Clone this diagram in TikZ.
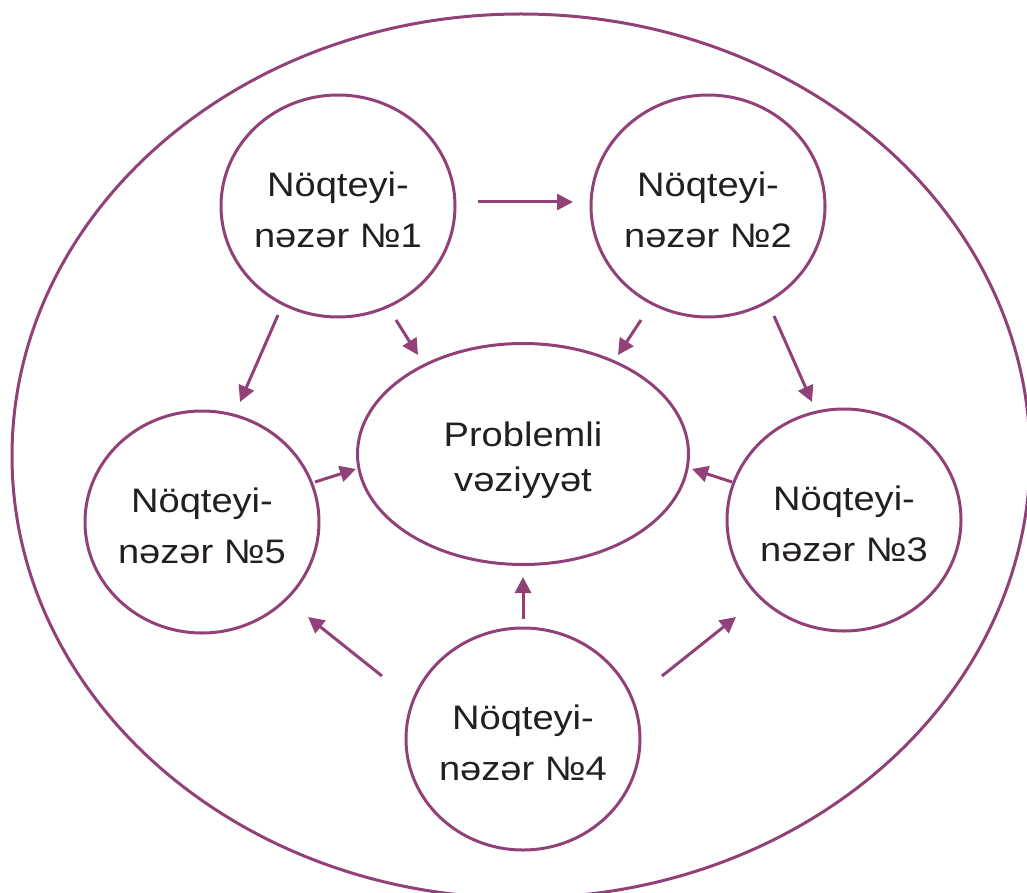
\documentclass[tikz,border=0pt]{standalone}
\usepackage{fontspec}
\setmainfont{Liberation Sans}
\newfontfamily\labelfont[FakeStretch=1.12]{Liberation Sans}
\usetikzlibrary{arrows.meta,shapes.geometric,calc}
\definecolor{plum}{RGB}{145,65,120}
\definecolor{ink}{RGB}{35,31,32}
% invisible strut that lowers a label inside its shape
\newcommand\headroom[1]{\rule{0pt}{#1}}

\begin{document}
\begin{tikzpicture}[x=1pt,y=-1pt,
  rim/.style={ellipse, draw=plum, line width=3pt, inner sep=0pt},
  view/.style={rim, minimum width=234pt, minimum height=222pt,
    inner xsep=-30pt, align=center, text=ink,
    font=\labelfont\fontsize{34}{51}\selectfont},
  core/.style={rim, minimum width=331pt, minimum height=221pt,
    inner xsep=-30pt, align=center, text=ink,
    font=\labelfont\fontsize{34}{45}\selectfont},
  arr/.style={draw=plum, line width=3pt, -{Triangle[length=16pt,width=16pt]}}
]
\useasboundingbox (0,0) rectangle (1027,893);

% enclosing boundary
\node[rim, minimum width=1018pt, minimum height=884pt] (outer) at (521,456) {};

% central problem
\node[core] (p) at (523,454) {\headroom{38pt}Problemli\\vəziyyət};

% five viewpoints
\node[view] (c1) at (338,206) {\headroom{32pt}Nöqteyi-\\nəzər №1};
\node[view] (c2) at (708,206) {\headroom{32pt}Nöqteyi-\\nəzər №2};
\node[view] (c3) at (844,520) {\headroom{32pt}Nöqteyi-\\nəzər №3};
\node[view] (c4) at (523,739) {\headroom{32pt}Nöqteyi-\\nəzər №4};
\node[view] (c5) at (202,522) {\headroom{32pt}Nöqteyi-\\nəzər №5};

% links between viewpoints
\draw[arr] ($(c1)+(140,-4)$) -- ($(c2)+(-135,-4)$);
\draw[arr] ($(c1)+(-60,109)$) -- ($(c5)+(38,-120)$);
\draw[arr] ($(c2)+(66,110)$) -- ($(c3)+(-32,-118)$);
\draw[arr] ($(c4)+(-141,-63)$) -- ($(c5)+(106,95)$);
\draw[arr] ($(c4)+(139,-63)$) -- ($(c3)+(-108,97)$);

% links into the problem
\draw[arr] ($(c1)+(58,114)$) -- ($(p)+(-105,-99)$);
\draw[arr] ($(c2)+(-67,114)$) -- ($(p)+(95,-99)$);
\draw[arr] ($(c5)+(113,-40)$) -- ($(p)+(-167,15)$);
\draw[arr] ($(c3)+(-112,-38)$) -- ($(p)+(169,15)$);
\draw[arr] ($(c4)+(0,-120)$) -- ($(p)+(0,123)$);
\end{tikzpicture}
\end{document}
